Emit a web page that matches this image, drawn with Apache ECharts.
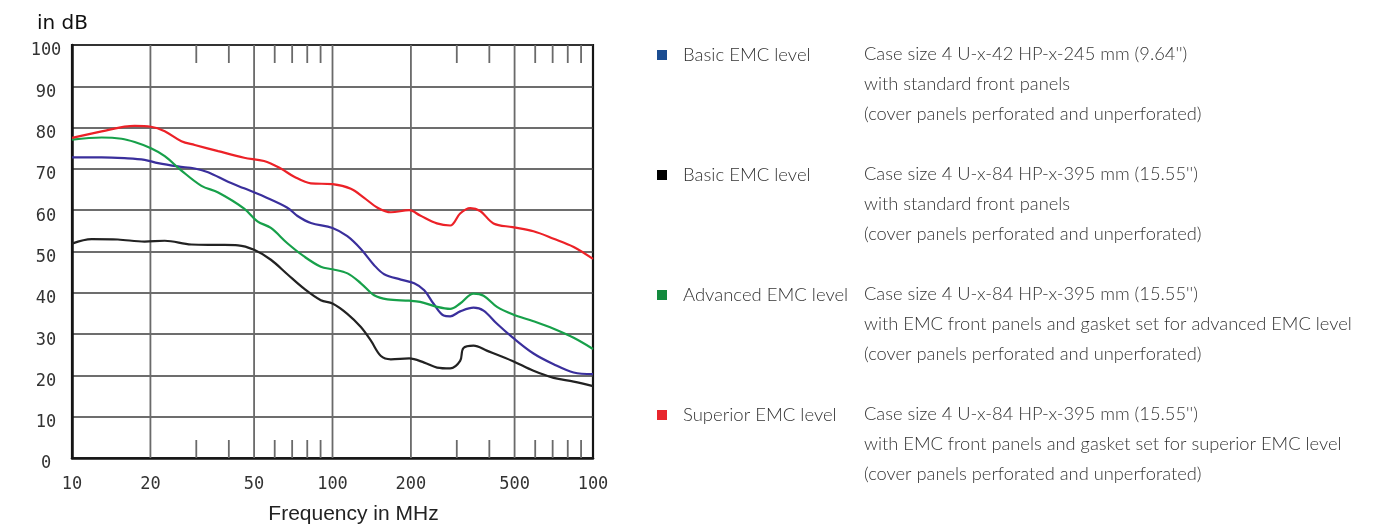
<!DOCTYPE html>
<html>
<head>
<meta charset="utf-8">
<script src="https://cdn.jsdelivr.net/npm/echarts@6/dist/echarts.min.js"></script>
<style>
  html, body { margin: 0; padding: 0; background: #fff; }
  #chart { width: 1384px; height: 525px; }
</style>
</head>
<body>
<div id="chart"></div>
<script>
// ---- Data ----
const xTickValues = [10, 20, 50, 100, 200, 500, 1000];
const xTickLabels = ['10', '20', '50', '100', '200', '500', '100'];
const majorGridFreq = [20, 50, 100, 200, 500];
const minorTickFreq = [30, 40, 60, 70, 80, 90, 300, 400, 600, 700, 800, 900];

const seriesIds = ['basic42', 'basic84', 'advanced84', 'superior84'];
const seriesNames = ['Basic EMC level', 'Basic EMC level', 'Advanced EMC level', 'Superior EMC level'];
const lineColors = ['#3a2f9c', '#222222', '#17a04a', '#ec2127'];
const legendColors = ['#1b4d91', '#000000', '#138a3e', '#e8262d'];

const descLines = [
  ['Case size 4 U-x-42 HP-x-245 mm (9.64\'\')', 'with standard front panels', '(cover panels perforated and unperforated)'],
  ['Case size 4 U-x-84 HP-x-395 mm (15.55\'\')', 'with standard front panels', '(cover panels perforated and unperforated)'],
  ['Case size 4 U-x-84 HP-x-395 mm (15.55\'\')', 'with EMC front panels and gasket set for advanced EMC level', '(cover panels perforated and unperforated)'],
  ['Case size 4 U-x-84 HP-x-395 mm (15.55\'\')', 'with EMC front panels and gasket set for superior EMC level', '(cover panels perforated and unperforated)']
];

const blueFreq = [10, 13, 15.9, 19, 21.4, 25.5, 29.6, 33.3, 39.7, 45.8, 54.6, 67.1, 73.4, 82.6, 100, 114, 128.5, 144.5, 157.9, 183, 205.9, 225, 244, 267, 283, 309, 348, 380, 428, 491, 591, 706, 843, 1000];
const blueDb   = [72.8, 72.8, 72.6, 72.2, 71.4, 70.6, 70.1, 69.2, 66.9, 65.3, 63.3, 60.6, 58.6, 56.9, 55.7, 53.7, 50.6, 46.7, 44.5, 43.2, 42.3, 40.6, 37.4, 34.5, 34.3, 35.5, 36.4, 35.7, 32.5, 29.2, 25.3, 22.7, 20.7, 20.3];

const blackFreq = [10, 11.9, 15, 19, 22.7, 28.7, 36.4, 43.4, 50, 58, 67.1, 77.8, 90.2, 100, 114, 128.5, 140.4, 153.4, 167.5, 197, 225, 252, 283, 309, 318, 348, 391, 491, 591, 706, 843, 1000];
const blackDb   = [51.9, 53.0, 52.9, 52.4, 52.6, 51.7, 51.6, 51.5, 50.4, 48.0, 44.5, 41.0, 38.2, 37.4, 34.9, 31.7, 28.4, 24.7, 23.9, 24.1, 23.1, 21.9, 21.7, 23.5, 26.6, 27.2, 26.0, 23.5, 21.1, 19.4, 18.5, 17.4];

const greenFreq = [10, 13, 15.5, 17.4, 20.1, 22.7, 26.3, 31.4, 36.4, 45.8, 51.5, 58, 67.1, 77.8, 90.2, 100, 114.2, 128.5, 144.5, 162.6, 197, 217, 252, 283, 309, 348, 380, 428, 491, 591, 706, 843, 1000];
const greenDb   = [77.1, 77.6, 77.3, 76.5, 75.0, 73.1, 69.6, 65.9, 64.3, 60.4, 57.3, 55.7, 52.0, 48.8, 46.3, 45.7, 44.7, 42.3, 39.4, 38.4, 38.1, 37.8, 36.6, 36.1, 37.4, 39.8, 39.3, 36.6, 34.8, 33.1, 31.3, 29.1, 26.4];

const redFreq = [10, 13, 17.4, 20.1, 22.7, 26.3, 29.6, 36.4, 45.8, 54.6, 63.3, 71.3, 82.6, 100, 117.6, 132.3, 148.9, 167.5, 197, 217, 251.6, 283, 309, 338, 369, 415, 491, 591, 706, 843, 1000];
const redDb   = [77.5, 79.1, 80.4, 80.2, 79.1, 76.7, 75.8, 74.3, 72.7, 71.9, 70.1, 68.1, 66.5, 66.3, 65.2, 63.0, 60.6, 59.5, 60.0, 58.7, 56.8, 56.3, 59.2, 60.5, 59.8, 56.8, 55.9, 54.9, 53.1, 51.1, 48.2];

// ---- Build ----
const zip = (xs, ys) => xs.map((x, i) => [x, ys[i]]);
const curveData = [zip(blueFreq, blueDb), zip(blackFreq, blackDb), zip(greenFreq, greenDb), zip(redFreq, redDb)];

const chart = echarts.init(document.getElementById('chart'), null, { renderer: 'canvas' });

const GRID = { left: 72, top: 45, width: 521, height: 413 };
const tickLen = 18;

const lineSeries = seriesIds.map((id, i) => ({
  name: id,
  type: 'line',
  data: curveData[i],
  showSymbol: false,
  smooth: 0.35,
  z: 5,
  lineStyle: { color: lineColors[i], width: 2.2 },
  itemStyle: { color: legendColors[i] },
  emphasis: { disabled: true }
}));

const gridLineSeries = {
  type: 'custom',
  silent: true,
  z: 1,
  data: majorGridFreq.map(f => [f, 0]),
  renderItem: function (params, api) {
    const f = api.value(0);
    const p0 = api.coord([f, 0]);
    const p1 = api.coord([f, 100]);
    return {
      type: 'line',
      shape: { x1: p0[0], y1: p0[1], x2: p1[0], y2: p1[1] },
      style: { stroke: '#6a6a6a', lineWidth: 1.8 }
    };
  }
};

const minorTickSeries = {
  type: 'custom',
  silent: true,
  z: 1,
  data: minorTickFreq.map(f => [f, 0]),
  renderItem: function (params, api) {
    const f = api.value(0);
    const pb = api.coord([f, 0]);
    const pt = api.coord([f, 100]);
    const st = { stroke: '#6a6a6a', lineWidth: 1.8 };
    return {
      type: 'group',
      children: [
        { type: 'line', shape: { x1: pb[0], y1: pb[1], x2: pb[0], y2: pb[1] - tickLen }, style: st },
        { type: 'line', shape: { x1: pt[0], y1: pt[1], x2: pt[0], y2: pt[1] + tickLen }, style: st }
      ]
    };
  }
};

const descGraphics = descLines.map((lines, i) => ({
  type: 'text',
  left: 864,
  top: 39 + 120 * i,
  style: {
    text: lines.join('\n'),
    font: '300 18.3px Lato',
    fill: '#333333',
    lineHeight: 30
  }
}));

const option = {
  backgroundColor: '#ffffff',
  animation: false,
  title: {
    text: 'in dB',
    left: 32,
    top: 9,
    textStyle: { fontFamily: 'DejaVu Sans', fontSize: 20, fontWeight: 'normal', color: '#111' }
  },
  legend: {
    orient: 'vertical',
    left: 652,
    top: 40,
    itemGap: 100,
    itemWidth: 10,
    itemHeight: 10,
    icon: 'rect',
    selectedMode: false,
    data: seriesIds.map((id, i) => ({ name: id, itemStyle: { color: legendColors[i] } })),
    formatter: function (name) { return seriesNames[seriesIds.indexOf(name)]; },
    textStyle: { fontFamily: 'Lato', fontWeight: 300, fontSize: 18.5, color: '#333333', lineHeight: 20, padding: [0, 0, 0, 11] }
  },
  grid: {
    left: GRID.left, top: GRID.top, width: GRID.width, height: GRID.height,
    containLabel: false,
    outerBoundsMode: 'none',
    show: true, borderColor: '#151515', borderWidth: 2.2, backgroundColor: 'transparent'
  },
  xAxis: {
    type: 'log',
    logBase: 10,
    min: 10,
    max: 1000,
    name: 'Frequency in MHz',
    nameLocation: 'middle',
    nameGap: 46,
    nameTextStyle: { fontFamily: 'Liberation Sans', fontSize: 21, color: '#222', padding: [0, 0, 0, 42] },
    axisLine: { show: true, lineStyle: { color: '#151515', width: 2.5 } },
    axisTick: { show: false },
    splitLine: { show: false },
    minorTick: { show: false },
    minorSplitLine: { show: false },
    axisLabel: {
      customValues: xTickValues,
      margin: 18,
      fontFamily: 'DejaVu Sans Mono',
      fontSize: 17,
      color: '#333',
      formatter: function (v) {
        let best = 0;
        for (let i = 0; i < xTickValues.length; i++) {
          if (Math.abs(Math.log10(xTickValues[i]) - Math.log10(v)) < Math.abs(Math.log10(xTickValues[best]) - Math.log10(v))) best = i;
        }
        return xTickLabels[best];
      }
    }
  },
  yAxis: {
    type: 'value',
    min: 0,
    max: 100,
    interval: 10,
    axisLine: { show: true, lineStyle: { color: '#151515', width: 2.5 } },
    axisTick: { show: false },
    splitLine: { show: true, lineStyle: { color: '#3c3c3c', width: 1.6 } },
    axisLabel: {
      align: 'center',
      verticalAlign: 'top',
      lineHeight: 12,
      margin: 26,
      fontFamily: 'DejaVu Sans Mono',
      fontSize: 17,
      color: '#333'
    }
  },
  graphic: descGraphics,
  series: [gridLineSeries, minorTickSeries].concat(lineSeries)
};

chart.setOption(option);
</script>
</body>
</html>
